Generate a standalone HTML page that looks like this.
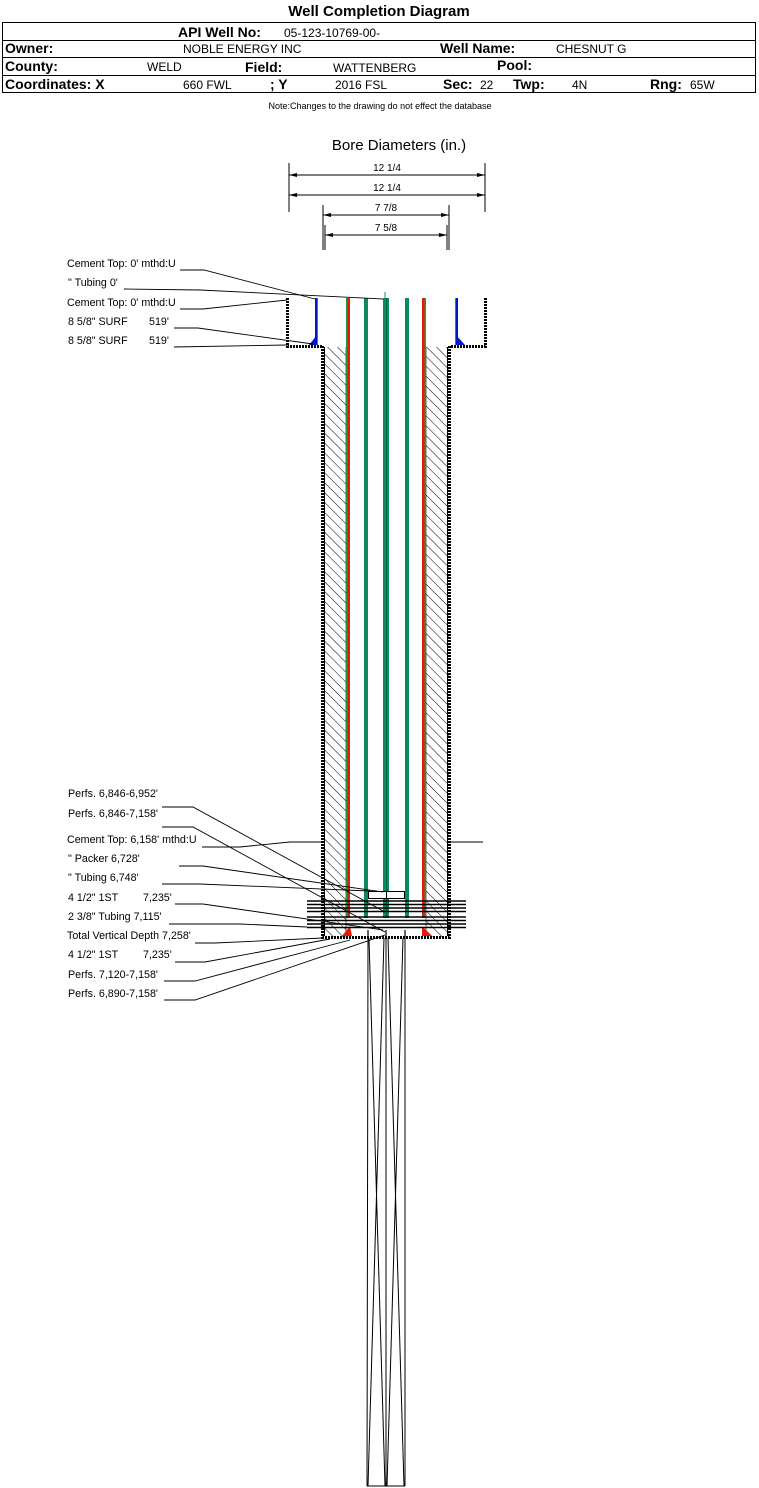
<!DOCTYPE html>
<html><head><meta charset="utf-8"><style>
html,body{margin:0;padding:0;background:#fff}
svg{display:block}
text{font-family:"Liberation Sans",Arial,sans-serif;fill:#000}
</style></head><body>
<svg width="759" height="1488" viewBox="0 0 759 1488" xmlns="http://www.w3.org/2000/svg">
<defs>
<pattern id="h" width="7" height="7" patternUnits="userSpaceOnUse" patternTransform="rotate(-45)">
<line x1="0" y1="0" x2="0" y2="7" stroke="#000" stroke-width="1"/>
</pattern>
</defs>
<!-- Header -->
<text x="379" y="16" font-size="15" font-weight="bold" text-anchor="middle">Well Completion Diagram</text>
<rect x="2.5" y="22.5" width="753" height="70" fill="none" stroke="#000"/>
<line x1="2" y1="40.5" x2="756" y2="40.5" stroke="#000"/>
<line x1="2" y1="57.5" x2="756" y2="57.5" stroke="#000"/>
<line x1="2" y1="75.5" x2="756" y2="75.5" stroke="#000"/>
<g font-size="14" font-weight="bold">
<text x="178" y="37">API Well No:</text>
<text x="5" y="53">Owner:</text>
<text x="440" y="53">Well Name:</text>
<text x="5" y="71">County:</text>
<text x="245" y="72">Field:</text>
<text x="497" y="70">Pool:</text>
<text x="5" y="89">Coordinates: X</text>
<text x="270" y="89">; Y</text>
<text x="443" y="89">Sec:</text>
<text x="513" y="89">Twp:</text>
<text x="650" y="89">Rng:</text>
</g>
<g font-size="12">
<text x="284" y="37">05-123-10769-00-</text>
<text x="183" y="53">NOBLE ENERGY INC</text>
<text x="556" y="53">CHESNUT G</text>
<text x="147" y="71">WELD</text>
<text x="333" y="72">WATTENBERG</text>
<text x="183" y="89">660 FWL</text>
<text x="335" y="89">2016 FSL</text>
<text x="480" y="89">22</text>
<text x="572" y="89">4N</text>
<text x="690" y="89">65W</text>
</g>
<text x="380" y="109" font-size="9" text-anchor="middle">Note:Changes to the drawing do not effect the database</text>

<!-- Bore diameters -->
<text x="399" y="150" font-size="15" text-anchor="middle">Bore Diameters (in.)</text>
<g stroke="#000" stroke-width="1">
<line x1="289" y1="163" x2="289" y2="212"/><line x1="485" y1="163" x2="485" y2="212"/>
<line x1="289" y1="175" x2="485" y2="175"/><line x1="289" y1="195" x2="485" y2="195"/>
<line x1="323" y1="205" x2="323" y2="250"/><line x1="449" y1="205" x2="449" y2="250"/>
<line x1="325" y1="225" x2="325" y2="250"/><line x1="447" y1="225" x2="447" y2="250"/>
<line x1="323" y1="215" x2="449" y2="215"/><line x1="325" y1="235" x2="447" y2="235"/>
</g>
<g fill="#000">
<path d="M289 175 l8 -2 v4z M485 175 l-8 -2 v4z M289 195 l8 -2 v4z M485 195 l-8 -2 v4z M323 215 l8 -2 v4z M449 215 l-8 -2 v4z M325 235 l8 -2 v4z M447 235 l-8 -2 v4z"/>
</g>
<g font-size="10" text-anchor="middle">
<text x="387" y="171">12 1/4</text><text x="387" y="191">12 1/4</text>
<text x="386" y="211">7 7/8</text><text x="386" y="231">7 5/8</text>
</g>

<!-- Surface casing box -->
<g stroke="#000" fill="none">
<path d="M287.5 298 V346.5 H322" stroke-width="3" stroke-dasharray="2 1"/>
<path d="M485.5 298 V346.5 H450" stroke-width="3" stroke-dasharray="2 1"/>
</g>
<!-- Main hole -->
<rect x="324" y="347" width="22" height="590" fill="url(#h)"/>
<rect x="426" y="347" width="23" height="590" fill="url(#h)"/>
<path d="M322.5 346 V937.5 H449.5 V346" fill="none" stroke="#000" stroke-width="3" stroke-dasharray="2 1"/>
<line x1="324.5" y1="347" x2="324.5" y2="936" stroke="#000" stroke-width="1"/>
<line x1="447.5" y1="347" x2="447.5" y2="936" stroke="#000" stroke-width="1"/>
<line x1="346" y1="347" x2="346" y2="937" stroke="#000" stroke-width="0.6"/>
<line x1="426" y1="347" x2="426" y2="937" stroke="#000" stroke-width="0.6"/>

<!-- blue surface cement -->
<rect x="315" y="298" width="2" height="47" fill="#0018c8"/>
<rect x="456" y="298" width="2" height="47" fill="#0018c8"/>
<path d="M309 345 L317 345 L317 335 Z" fill="#0018c8"/>
<path d="M456 335 L456 345 L465 345 Z" fill="#0018c8"/>
<rect x="317" y="298" width="1" height="47" fill="#1a9a3c"/>
<rect x="455" y="298" width="1" height="47" fill="#1a9a3c"/>

<!-- pipes -->
<rect x="346" y="298" width="1.5" height="620" fill="#1a9a3c"/>
<rect x="347.5" y="298" width="2.5" height="620" fill="#e8180c"/>
<rect x="364" y="298" width="4" height="620" fill="#0a8a60"/>
<rect x="383" y="298" width="6" height="620" fill="#0a8a60"/>
<rect x="386" y="298" width="1" height="620" fill="#064"/>
<line x1="385" y1="292" x2="385" y2="298" stroke="#1a9a3c"/>
<rect x="405" y="298" width="4" height="620" fill="#0a8a60"/>
<rect x="422" y="298" width="2.5" height="620" fill="#e8180c"/>
<rect x="424.5" y="298" width="1.5" height="620" fill="#1a9a3c"/>
<!-- red bottom triangles -->
<path d="M342 936 L350 926 L352 936Z" fill="#e8180c"/>
<path d="M422 926 L422 936 L432 936Z" fill="#e8180c"/>
<!-- packer -->
<rect x="368.5" y="891.5" width="18" height="7" fill="#fff" stroke="#000"/>
<rect x="386.5" y="891.5" width="18" height="7" fill="#fff" stroke="#000"/>
<!-- perf bars -->
<g stroke="#000" stroke-width="1.6">
<line x1="307" y1="901" x2="466" y2="901"/><line x1="307" y1="904.5" x2="466" y2="904.5"/>
<line x1="307" y1="908" x2="466" y2="908"/><line x1="307" y1="911.5" x2="466" y2="911.5"/>
<line x1="307" y1="917" x2="466" y2="917"/><line x1="307" y1="920.5" x2="466" y2="920.5"/>
<line x1="307" y1="924" x2="466" y2="924"/><line x1="307" y1="927.5" x2="466" y2="927.5"/>
</g>
<g stroke="#000" stroke-width="1.2">
<line x1="368" y1="930" x2="368" y2="938"/><line x1="386" y1="930" x2="386" y2="938"/><line x1="405" y1="930" x2="405" y2="938"/>
</g>
<!-- cement top lines -->
<line x1="290" y1="842" x2="322" y2="842" stroke="#000"/>
<line x1="450" y1="842" x2="483" y2="842" stroke="#000"/>

<!-- lower open hole -->
<g stroke="#000" fill="none" stroke-width="1">
<line x1="368" y1="938" x2="367" y2="1486"/>
<line x1="386" y1="938" x2="386" y2="1486"/>
<line x1="405" y1="938" x2="405" y2="1486"/>
<line x1="367" y1="1486" x2="405" y2="1486"/>
<line x1="369" y1="938" x2="385" y2="1486"/>
<line x1="384" y1="938" x2="368" y2="1486"/>
<line x1="388" y1="938" x2="404" y2="1486"/>
<line x1="403" y1="938" x2="387" y2="1486"/>
</g>

<!-- labels -->
<g font-size="10.7">
<text x="67" y="267">Cement Top: 0' mthd:U</text>
<text x="68" y="286">" Tubing 0'</text>
<text x="67" y="306">Cement Top: 0' mthd:U</text>
<text x="68" y="325">8 5/8" SURF</text><text x="149" y="325">519'</text>
<text x="68" y="344">8 5/8" SURF</text><text x="149" y="344">519'</text>
<text x="68" y="797">Perfs. 6,846-6,952'</text>
<text x="68" y="817">Perfs. 6,846-7,158'</text>
<text x="67" y="843">Cement Top: 6,158' mthd:U</text>
<text x="68" y="862">" Packer 6,728'</text>
<text x="68" y="881">" Tubing 6,748'</text>
<text x="68" y="901">4 1/2" 1ST</text><text x="143" y="901">7,235'</text>
<text x="68" y="920">2 3/8" Tubing 7,115'</text>
<text x="67" y="939">Total Vertical Depth 7,258'</text>
<text x="68" y="958">4 1/2" 1ST</text><text x="143" y="958">7,235'</text>
<text x="68" y="978">Perfs. 7,120-7,158'</text>
<text x="68" y="997">Perfs. 6,890-7,158'</text>
</g>
<g stroke="#000" fill="none" stroke-width="0.9">
<polyline points="180,270 204,270 315,299"/>
<polyline points="124,289 200,290 383,299"/>
<polyline points="180,309 203,309 287,300"/>
<polyline points="174,328 198,328 313,344"/>
<polyline points="174,347 287,345"/>
<polyline points="162,807 193,807 385,912"/>
<polyline points="162,827 193,827 385,932"/>
<polyline points="202,847 240,847 290,842"/>
<polyline points="179,866 203,866 383,892"/>
<polyline points="162,884 200,884 370,891"/>
<polyline points="175,904 203,904 383,930"/>
<polyline points="169,924 240,924 307,927"/>
<polyline points="195,943 215,943 323,938"/>
<polyline points="175,962 205,962 330,939"/>
<polyline points="164,981 195,981 350,940"/>
<polyline points="164,1000 195,1000 385,935"/>
</g>
</svg>
</body></html>
